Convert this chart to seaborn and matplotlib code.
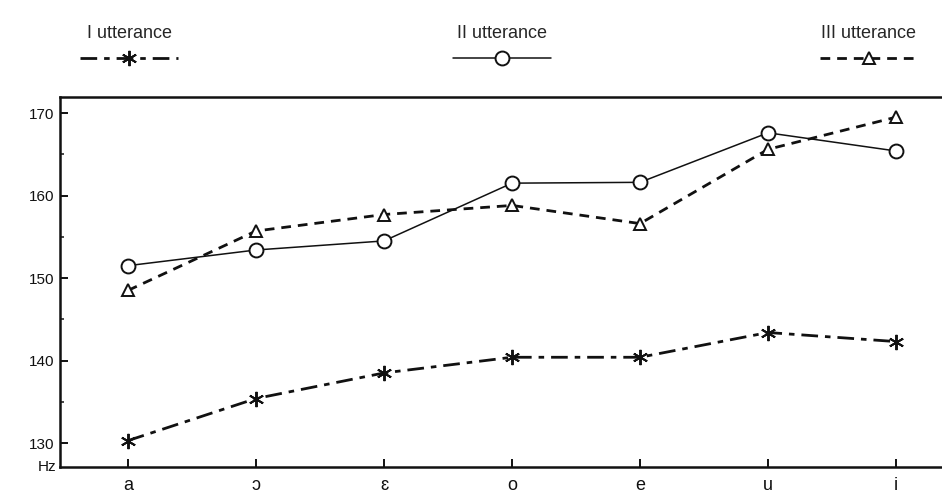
import matplotlib
matplotlib.use("Agg")
import matplotlib.pyplot as plt
from matplotlib.lines import Line2D
from matplotlib.ticker import MultipleLocator
import seaborn as sns

# vowels on the x axis
vowels = ["a", "ɔ", "ɛ", "o", "e", "u", "i"]

# mean F0 (Hz) per utterance (tilt of the page corrected)
utt_1 = [130.3, 135.4, 138.5, 140.4, 140.4, 143.4, 142.3]
utt_2 = [151.5, 153.4, 154.5, 161.5, 161.6, 167.6, 165.4]
utt_3 = [148.5, 155.7, 157.7, 158.8, 156.6, 165.6, 169.5]

series_names = ["I utterance", "II utterance", "III utterance"]
y_ticks = [130, 140, 150, 160, 170]

sns.set_style("white")
plt.rcParams["font.family"] = ["Liberation Sans", "DejaVu Sans"]

ink = "#111111"

# per-series look: marker, marker size, line width, dash pattern
looks = {
    "I utterance": dict(marker=(6, 2, 0), ms=11, lw=2.0, ls=(0, (6, 2.5, 2, 2.5))),
    "II utterance": dict(marker="o", ms=10, lw=1.1, ls="-"),
    "III utterance": dict(marker="^", ms=8.5, lw=2.0, ls=(0, (3.5, 2.5))),
}
values = {"I utterance": utt_1, "II utterance": utt_2, "III utterance": utt_3}

fig = plt.figure(figsize=(9.42, 5.04), dpi=100)
ax = fig.add_axes([0.0637, 0.0734, 0.9363, 0.7351])

for name in series_names:
    lk = looks[name]
    sns.lineplot(x=vowels, y=values[name], ax=ax, sort=False, color=ink,
                 lw=lk["lw"], linestyle=lk["ls"], marker=lk["marker"],
                 markersize=lk["ms"], markeredgewidth=1.4,
                 markeredgecolor=ink, markerfacecolor="white")

ax.set_xlim(-0.531, 6.359)
ax.set_ylim(127.1, 172.0)
ax.set_yticks(y_ticks)
ax.yaxis.set_minor_locator(MultipleLocator(5))
ax.set_xlabel("")
ax.set_ylabel("")

for side in ["left", "bottom", "top"]:
    ax.spines[side].set_color(ink)
    ax.spines[side].set_linewidth(1.8)
ax.spines["right"].set_visible(False)

ax.tick_params(axis="x", direction="in", length=6, width=1.4, pad=7,
               labelsize=13, colors=ink, bottom=True)
ax.tick_params(axis="y", which="major", direction="in", length=6, width=1.4,
               pad=4, labelsize=11, colors=ink, left=True)
ax.tick_params(axis="y", which="minor", direction="in", length=3, width=1.2,
               left=True)

ax.text(-0.004, 0.0, "Hz", transform=ax.transAxes, ha="right", va="center",
        fontsize=11, color=ink)

# legend: three separate keys, name written above each sample
legend_x = [0.137, 0.533, 0.922]
for name, lx in zip(series_names, legend_x):
    lk = looks[name]
    h = Line2D([], [], color=ink, lw=lk["lw"], linestyle=lk["ls"],
               marker=lk["marker"], markersize=lk["ms"], markeredgewidth=1.4,
               markeredgecolor=ink, markerfacecolor="white")
    fig.legend(handles=[h], labels=[""], title=name, loc="upper center",
               bbox_to_anchor=(lx, 0.968), frameon=False, handlelength=5.4,
               handletextpad=0, borderpad=0, numpoints=1,
               prop={"size": 13}, title_fontsize=13)

fig.savefig("out.png", dpi=100, facecolor="white")
